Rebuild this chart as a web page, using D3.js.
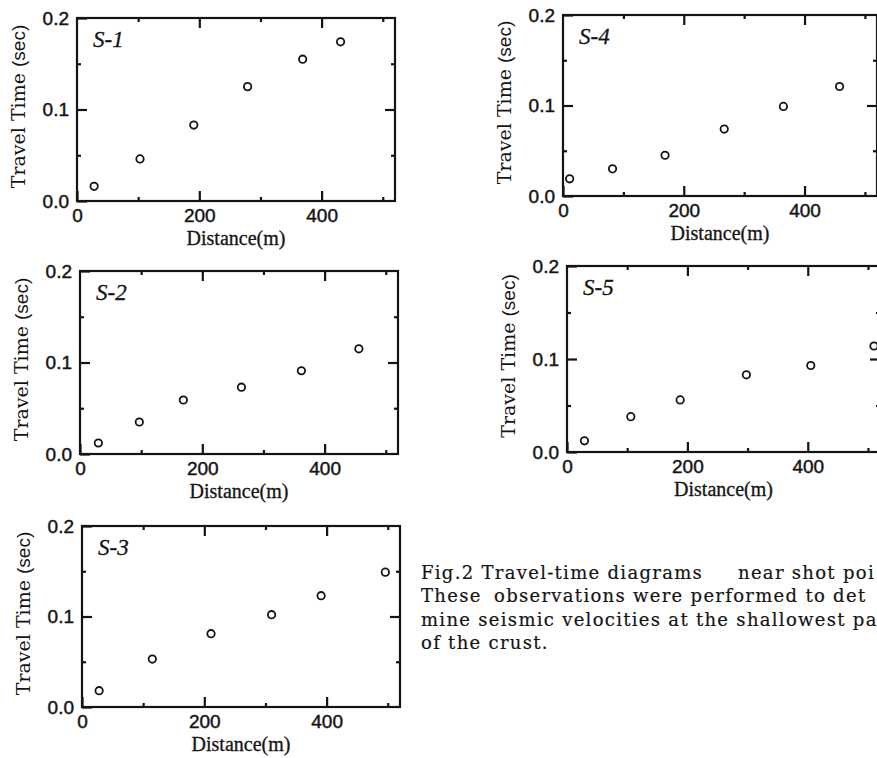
<!DOCTYPE html>
<html>
<head>
<meta charset="utf-8">
<script src="https://cdn.jsdelivr.net/npm/d3@7/dist/d3.min.js"></script>
<style>
  html, body { margin: 0; padding: 0; background: #fff; }
  svg { display: block; }
</style>
</head>
<body>
<svg id="fig" width="877" height="758"></svg>
<script>
// Travel-time observations at each shot point: distance (m) and first-arrival time (s)
const panelNames = ["S-1", "S-2", "S-3", "S-4", "S-5"];

const distS1 = [28, 103, 191, 279, 369, 431];
const timeS1 = [0.016, 0.046, 0.083, 0.125, 0.155, 0.174];

const distS2 = [30, 97, 169, 264, 362, 456];
const timeS2 = [0.012, 0.035, 0.059, 0.073, 0.091, 0.115];

const distS3 = [28, 115, 211, 310, 391, 496];
const timeS3 = [0.018, 0.053, 0.081, 0.102, 0.123, 0.149];

const distS4 = [11, 82, 169, 267, 365, 458];
const timeS4 = [0.019, 0.030, 0.045, 0.074, 0.099, 0.121];

const distS5 = [29, 106, 188, 298, 405, 510];
const timeS5 = [0.012, 0.038, 0.056, 0.083, 0.093, 0.114];

const distances = [distS1, distS2, distS3, distS4, distS5];
const times = [timeS1, timeS2, timeS3, timeS4, timeS5];

// Axis ticks
const xMajorTicks = [0, 200, 400];
const xMinorTicks = [100, 300, 500];
const yMajorTicks = [0.0, 0.1, 0.2];
const yMinorTicks = [0.05, 0.15];
const xDomain = [0, 520];
const yDomain = [0, 0.2];

const xTitle = "Distance(m)";
const yTitleMain = "Travel Time ";
const yTitleUnit = "(sec)";

// Caption text as it runs up to the page edge
const captionLines = [
  [["Fig.2 Travel-time diagrams", 0], ["near shot poi", 317]],
  [["These", 0], ["observations were performed to det", 73]],
  [["mine seismic velocities at the shallowest pa", 0]],
  [["of the crust.", 0]]
];

// Frame placement of each panel on the page
const layout = [
  { left: 77, top: 18, width: 318, height: 183 },
  { left: 80, top: 271, width: 318, height: 183 },
  { left: 82, top: 526, width: 318, height: 181 },
  { left: 563, top: 15, width: 314, height: 181 },
  { left: 567, top: 266, width: 313, height: 186 }
];

const svg = d3.select("#fig");
svg.append("rect").attr("width", 877).attr("height", 758).attr("fill", "#fff");

const ink = "#141414";
const sansFont = "'Liberation Sans', Arial, sans-serif";
const serifFont = "'Liberation Serif', 'Times New Roman', serif";
const captionFont = "'DejaVu Serif', serif";

panelNames.forEach((name, i) => {
  const L = layout[i];
  const x = d3.scaleLinear().domain(xDomain).range([0, L.width]);
  const y = d3.scaleLinear().domain(yDomain).range([L.height, 0]);

  const g = svg.append("g").attr("transform", `translate(${L.left},${L.top})`);

  function styleAxis(sel, withText) {
    sel.select(".domain").remove();
    sel.selectAll(".tick line").attr("stroke", ink).attr("stroke-width", 2.2);
    if (withText) {
      sel.selectAll(".tick text")
        .attr("fill", ink)
        .attr("stroke", ink)
        .attr("stroke-width", 0.45)
        .style("font-family", sansFont)
        .style("font-size", "19px");
    } else {
      sel.selectAll(".tick text").remove();
    }
  }

  // bottom axis (labelled)
  g.append("g").attr("transform", `translate(0,${L.height})`)
    .call(d3.axisBottom(x).tickValues(xMajorTicks).tickSize(-10).tickPadding(8).tickFormat(d3.format("d")))
    .call(s => styleAxis(s, true));
  g.append("g").attr("transform", `translate(0,${L.height})`)
    .call(d3.axisBottom(x).tickValues(xMinorTicks).tickSize(-4))
    .call(s => styleAxis(s, false));
  // top axis
  g.append("g")
    .call(d3.axisTop(x).tickValues(xMajorTicks.filter(v => v > 0)).tickSize(-10))
    .call(s => styleAxis(s, false));
  g.append("g")
    .call(d3.axisTop(x).tickValues(xMinorTicks).tickSize(-4))
    .call(s => styleAxis(s, false));
  // left axis (labelled)
  g.append("g")
    .call(d3.axisLeft(y).tickValues(yMajorTicks).tickSize(-10).tickPadding(8).tickFormat(d3.format(".1f")))
    .call(s => styleAxis(s, true));
  g.append("g")
    .call(d3.axisLeft(y).tickValues(yMinorTicks).tickSize(-4))
    .call(s => styleAxis(s, false));
  // right axis
  g.append("g").attr("transform", `translate(${L.width},0)`)
    .call(d3.axisRight(y).tickValues([0.1]).tickSize(-10))
    .call(s => styleAxis(s, false));
  g.append("g").attr("transform", `translate(${L.width},0)`)
    .call(d3.axisRight(y).tickValues(yMinorTicks).tickSize(-4))
    .call(s => styleAxis(s, false));

  // frame
  g.append("rect")
    .attr("x", 0).attr("y", 0)
    .attr("width", L.width).attr("height", L.height)
    .attr("fill", "none").attr("stroke", ink).attr("stroke-width", 2.2);

  // observed arrivals
  g.selectAll("circle.obs")
    .data(distances[i].map((d, k) => ({ d, t: times[i][k] })))
    .join("circle")
    .attr("class", "obs")
    .attr("cx", p => x(p.d))
    .attr("cy", p => y(p.t))
    .attr("r", 3.7)
    .attr("fill", "none")
    .attr("stroke", ink)
    .attr("stroke-width", 1.8);

  // shot point name
  g.append("text")
    .attr("x", 16).attr("y", 29)
    .attr("fill", ink)
    .attr("stroke", ink)
    .attr("stroke-width", 0.3)
    .style("font-family", serifFont)
    .style("font-style", "italic")
    .style("font-size", "23px")
    .text(name);

  // x title
  g.append("text")
    .attr("x", L.width / 2).attr("y", L.height + 44)
    .attr("text-anchor", "middle")
    .attr("fill", ink)
    .attr("stroke", ink)
    .attr("stroke-width", 0.3)
    .style("font-family", serifFont)
    .style("font-size", "20px")
    .text(xTitle);

  // y title
  const yt = g.append("text")
    .attr("transform", `translate(-52,${L.height / 2 - 3}) rotate(-90)`)
    .attr("text-anchor", "middle")
    .attr("fill", ink)
    .style("font-size", "19px");
  yt.append("tspan").style("font-family", captionFont).text(yTitleMain);
  yt.append("tspan").style("font-family", sansFont).text(yTitleUnit);
});

// figure caption
const cap = svg.append("g").attr("transform", "translate(421,579)");
captionLines.forEach((segs, li) => {
  segs.forEach(([txt, dx]) => {
    cap.append("text")
      .attr("x", dx).attr("y", li * 23.3)
      .attr("fill", ink)
      .attr("stroke", ink)
      .attr("stroke-width", 0.2)
      .style("font-family", captionFont)
      .style("font-size", "18px")
      .style("letter-spacing", "1.3px")
      .text(txt);
  });
});
</script>
</body>
</html>
